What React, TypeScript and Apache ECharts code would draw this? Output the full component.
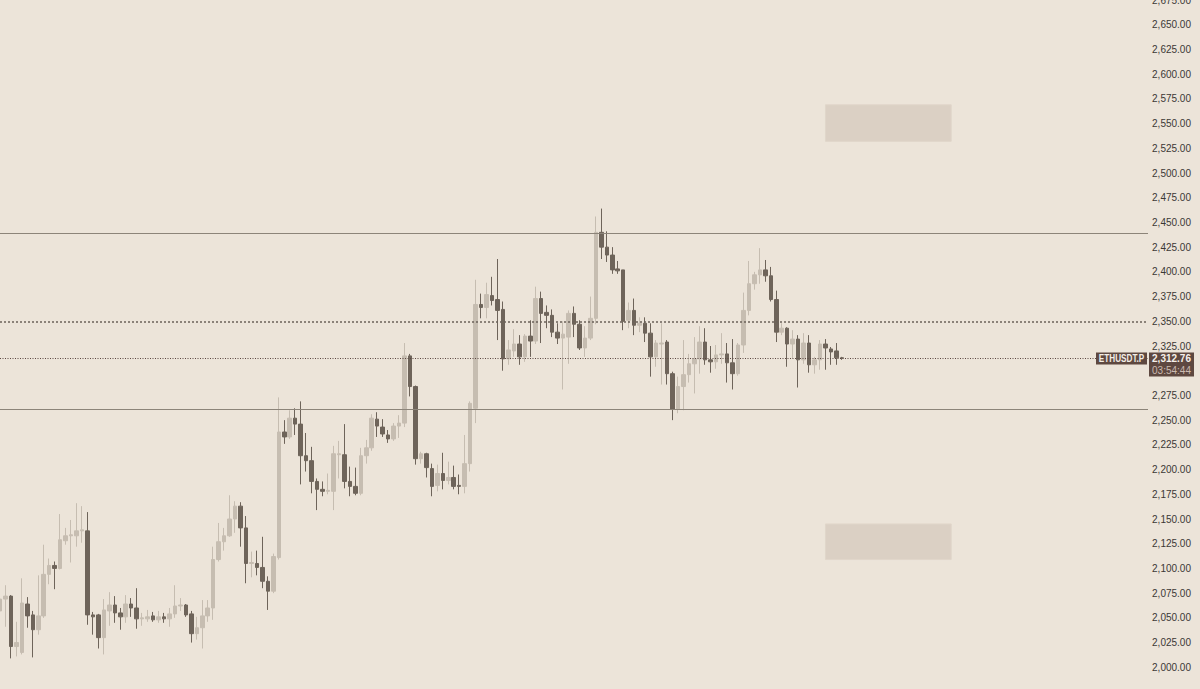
import React, { useEffect, useRef } from "react";
import * as echarts from "echarts";

// OHLC per candle
const opens = [
  2057, 2069, 2072, 2021, 2015, 2064, 2053, 2038, 2052, 2094, 2103, 2100, 2128, 2133, 2133, 2138, 2138, 2053, 2053, 2030,
  2057, 2063, 2055, 2051, 2064, 2060, 2049, 2049, 2052, 2048, 2051, 2049, 2054, 2062, 2063, 2054, 2034, 2040, 2052, 2060,
  2109, 2127, 2133, 2150, 2163, 2141, 2105, 2105, 2101, 2087, 2077, 2111, 2238, 2233, 2252, 2246, 2214, 2209, 2188, 2180,
  2178, 2178, 2215, 2215, 2188, 2183, 2176, 2214, 2222, 2251, 2243, 2235, 2231, 2244, 2247, 2315, 2284, 2211, 2216, 2201,
  2184, 2196, 2189, 2192, 2184, 2183, 2206, 2262, 2367, 2364, 2376, 2372, 2362, 2312, 2320, 2327, 2314, 2335, 2330, 2373,
  2359, 2356, 2339, 2333, 2334, 2358, 2347, 2323, 2333, 2353, 2440, 2425, 2417, 2403, 2402, 2351, 2361, 2346, 2348, 2338,
  2314, 2327, 2329, 2297, 2261, 2284, 2296, 2307, 2312, 2329, 2311, 2309, 2316, 2317, 2308, 2297, 2326, 2361, 2388, 2397,
  2402, 2396, 2372, 2339, 2343, 2327, 2332, 2311, 2328, 2306, 2311, 2327, 2322, 2320, 2313,
];
const closes = [
  2069, 2072, 2021, 2025, 2065, 2052, 2038, 2052, 2094, 2103, 2100, 2129, 2133, 2134, 2138, 2139, 2053, 2051, 2030, 2058,
  2063, 2055, 2051, 2064, 2060, 2049, 2050, 2051, 2048, 2051, 2049, 2054, 2062, 2063, 2053, 2034, 2040, 2052, 2060, 2109,
  2127, 2133, 2150, 2163, 2141, 2105, 2106, 2101, 2087, 2077, 2112, 2238, 2233, 2252, 2246, 2214, 2209, 2188, 2180, 2178,
  2179, 2216, 2216, 2188, 2183, 2176, 2214, 2222, 2252, 2244, 2236, 2231, 2244, 2247, 2315, 2284, 2211, 2216, 2202, 2183,
  2196, 2189, 2192, 2183, 2183, 2206, 2267, 2367, 2364, 2377, 2371, 2361, 2312, 2321, 2327, 2314, 2335, 2330, 2373, 2358,
  2356, 2339, 2333, 2337, 2358, 2347, 2323, 2333, 2353, 2440, 2425, 2417, 2402, 2401, 2350, 2361, 2346, 2348, 2338, 2314,
  2328, 2328, 2297, 2261, 2284, 2296, 2307, 2312, 2329, 2311, 2309, 2316, 2317, 2308, 2297, 2326, 2361, 2388, 2397, 2402,
  2396, 2372, 2339, 2343, 2327, 2332, 2311, 2328, 2306, 2311, 2327, 2323, 2319, 2313, 2312.76,
];
const highs = [
  2081, 2083, 2073, 2046, 2090, 2071, 2057, 2093, 2124, 2110, 2107, 2155, 2141, 2149, 2166, 2163, 2157, 2056, 2054, 2069,
  2076, 2072, 2060, 2073, 2070, 2080, 2055, 2058, 2056, 2057, 2055, 2060, 2083, 2070, 2064, 2057, 2051, 2068, 2068, 2122,
  2146, 2141, 2174, 2168, 2167, 2153, 2117, 2118, 2132, 2092, 2115, 2273, 2250, 2260, 2262, 2269, 2237, 2223, 2191, 2188,
  2196, 2224, 2229, 2246, 2203, 2202, 2222, 2230, 2256, 2258, 2251, 2240, 2247, 2255, 2328, 2317, 2285, 2218, 2217, 2206,
  2205, 2217, 2208, 2204, 2195, 2235, 2269, 2392, 2378, 2389, 2395, 2413, 2370, 2331, 2342, 2336, 2337, 2351, 2385, 2380,
  2366, 2362, 2348, 2350, 2361, 2365, 2351, 2345, 2375, 2456, 2464, 2441, 2425, 2411, 2402, 2369, 2373, 2354, 2354, 2348,
  2331, 2348, 2331, 2299, 2294, 2331, 2317, 2334, 2345, 2343, 2325, 2326, 2338, 2328, 2332, 2328, 2379, 2411, 2400, 2424,
  2412, 2405, 2381, 2348, 2344, 2341, 2336, 2338, 2336, 2314, 2331, 2332, 2324, 2328, 2314,
];
const lows = [
  2046, 2041, 2009, 2011, 2013, 2040, 2010, 2033, 2050, 2084, 2079, 2099, 2124, 2106, 2122, 2126, 2043, 2033, 2019, 2013,
  2042, 2045, 2038, 2045, 2051, 2039, 2042, 2046, 2046, 2045, 2045, 2041, 2050, 2057, 2051, 2025, 2028, 2019, 2046, 2048,
  2107, 2118, 2132, 2136, 2122, 2085, 2091, 2093, 2080, 2058, 2075, 2109, 2226, 2231, 2235, 2185, 2198, 2176, 2159, 2173,
  2175, 2159, 2191, 2181, 2173, 2174, 2174, 2206, 2219, 2233, 2233, 2227, 2229, 2232, 2243, 2274, 2205, 2206, 2192, 2173,
  2178, 2180, 2185, 2180, 2175, 2176, 2198, 2247, 2353, 2353, 2366, 2331, 2300, 2306, 2314, 2306, 2309, 2314, 2327, 2328,
  2343, 2334, 2327, 2281, 2307, 2334, 2321, 2314, 2331, 2347, 2413, 2410, 2398, 2398, 2341, 2343, 2336, 2339, 2329, 2294,
  2304, 2286, 2286, 2250, 2257, 2260, 2288, 2277, 2297, 2306, 2298, 2302, 2307, 2288, 2281, 2295, 2318, 2356, 2382, 2388,
  2390, 2370, 2329, 2336, 2304, 2312, 2283, 2307, 2298, 2297, 2301, 2301, 2306, 2306, 2311,
];

// x slots (candles + empty right margin of the chart)
const slotCount = 211;
const slots = Array.from({ length: slotCount }, (_, i) => String(i));

// horizontal levels and zones
const upperLevel = 2439;
const lowerLevel = 2261;
const midLevel = 2350;
const lastPrice = 2312.76;
const symbolName = "ETHUSDT.P";
const countdown = "03:54:44";
const upperZone = [2532, 2569];
const lowerZone = [2109, 2145];
const zoneStart = 151;
const zoneEnd = 174;

const yMin = 1975;
const yMax = 2675;
const yStep = 25;

const BG = "#ece4d9";
const UP = "#c6bdb1";
const DOWN = "#6e645a";
const TAG = "#5e4840";

const fmt = (v: number) =>
  v.toLocaleString("en-US", { minimumFractionDigits: 2, maximumFractionDigits: 2 });

export default function App() {
  const ref = useRef<HTMLDivElement>(null);

  useEffect(() => {
    if (!ref.current) return;
    const chart = echarts.init(ref.current, null, { renderer: "svg" });
    const candles = opens.map((o, i) => [o, closes[i], lows[i], highs[i]]);

    chart.setOption({
      animation: false,
      backgroundColor: BG,
      grid: {
        left: 0,
        right: 52,
        top: 0,
        bottom: 0,
        containLabel: false,
        outerBoundsMode: "none",
      },
      xAxis: {
        type: "category",
        data: slots,
        boundaryGap: false,
        axisLine: { show: false },
        axisTick: { show: false },
        axisLabel: { show: false },
        splitLine: { show: false },
      },
      yAxis: {
        type: "value",
        position: "right",
        min: yMin,
        max: yMax,
        interval: yStep,
        axisLine: { show: false },
        axisTick: { show: false },
        splitLine: { show: false },
        axisLabel: {
          formatter: (v: number) => fmt(v),
          align: "right",
          margin: 43,
          fontSize: 10,
          color: "#3b3835",
          fontFamily: "Liberation Sans, Arial, sans-serif",
          showMinLabel: false,
          showMaxLabel: true,
        },
      },
      series: [
        {
          type: "candlestick",
          data: candles,
          barWidth: 4,
          itemStyle: {
            color: UP,
            color0: DOWN,
            borderColor: UP,
            borderColor0: DOWN,
            borderColorDoji: UP,
            borderWidth: 1,
          },
          markArea: {
            silent: true,
            itemStyle: { color: "#dbd0c4", borderColor: "#e0d6ca", borderWidth: 1 },
            data: [
              [
                { xAxis: slots[zoneStart], yAxis: upperZone[1] },
                { xAxis: slots[zoneEnd], yAxis: upperZone[0] },
              ],
              [
                { xAxis: slots[zoneStart], yAxis: lowerZone[1] },
                { xAxis: slots[zoneEnd], yAxis: lowerZone[0] },
              ],
            ],
          },
          markLine: {
            silent: true,
            symbol: ["none", "none"],
            label: { show: false },
            data: [
              { yAxis: upperLevel, lineStyle: { color: "#8c8479", width: 1, type: "solid" } },
              { yAxis: lowerLevel, lineStyle: { color: "#8c8479", width: 1, type: "solid" } },
              { yAxis: midLevel, lineStyle: { color: "#6b6259", width: 1.5, type: [2, 2] } },
              { yAxis: lastPrice, lineStyle: { color: "#5a4640", width: 1, type: [1, 1.5] } },
            ],
          },
        },
      ],
    });

    const yPx = chart.convertToPixel({ yAxisIndex: 0 }, lastPrice) as number;
    chart.setOption({
      graphic: [
        {
          type: "rect",
          z: 100,
          shape: { x: 1096, y: yPx - 5.5, width: 51, height: 12 },
          style: { fill: TAG },
        },
        {
          type: "text",
          z: 101,
          x: 1121.5,
          y: yPx + 0.5,
          scaleX: 0.82,
          style: {
            text: symbolName,
            fill: "#f3ede6",
            font: "bold 10px 'Liberation Sans', Arial, sans-serif",
            align: "center",
            verticalAlign: "middle",
          },
        },
        {
          type: "rect",
          z: 100,
          shape: { x: 1149, y: yPx - 5.5, width: 45, height: 24 },
          style: { fill: TAG },
        },
        {
          type: "text",
          z: 101,
          x: 1191,
          y: yPx + 0.5,
          style: {
            text: fmt(lastPrice),
            fill: "#f6f0ea",
            font: "bold 10px 'Liberation Sans', Arial, sans-serif",
            align: "right",
            verticalAlign: "middle",
          },
        },
        {
          type: "text",
          z: 101,
          x: 1191,
          y: yPx + 12.5,
          style: {
            text: countdown,
            fill: "#cbbab0",
            font: "10px 'Liberation Sans', Arial, sans-serif",
            align: "right",
            verticalAlign: "middle",
          },
        },
      ],
    });

    return () => chart.dispose();
  }, []);

  return (
    <div
      ref={ref}
      style={{ position: "fixed", left: 0, top: 0, width: 1200, height: 692, background: BG }}
    />
  );
}
